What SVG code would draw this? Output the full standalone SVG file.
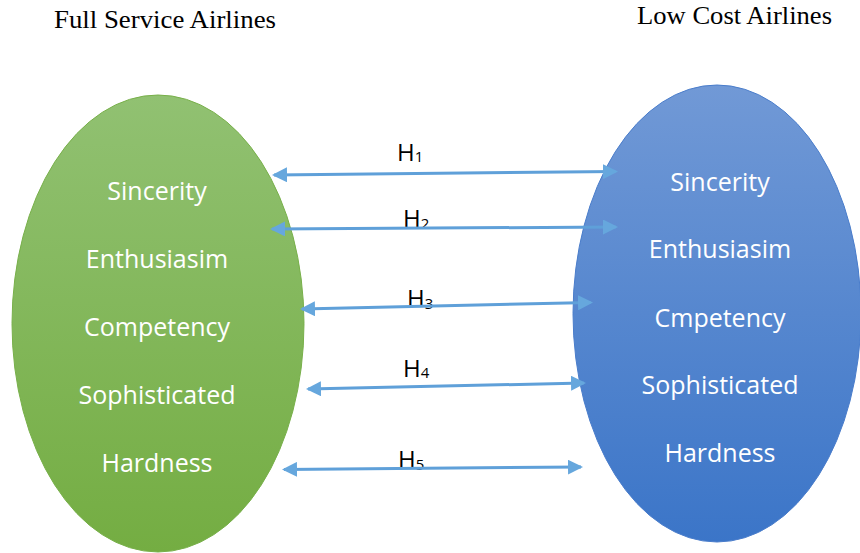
<svg xmlns="http://www.w3.org/2000/svg" width="860" height="553" viewBox="0 0 860 553">
  <style>
    .title { font-family: "Liberation Serif", "Times New Roman", serif; font-size: 26px; fill: #000; }
    .item { font-family: "Open Sans", "Liberation Sans", sans-serif; font-size: 25px; fill: #fff; text-anchor: middle; }
    .hlab { font-family: "Open Sans", "Liberation Sans", sans-serif; font-size: 24px; fill: #000; }
    .conn { stroke: #5FA0D9; stroke-width: 3; fill: none; marker-start: url(#head); marker-end: url(#head); }
  </style>
  <defs>
    <linearGradient id="gGreen" x1="0" y1="0" x2="0" y2="1">
      <stop offset="0" stop-color="#91C172"/>
      <stop offset="1" stop-color="#74AD42"/>
    </linearGradient>
    <linearGradient id="gBlue" x1="0" y1="0" x2="0" y2="1">
      <stop offset="0" stop-color="#7199D6"/>
      <stop offset="1" stop-color="#3B75C8"/>
    </linearGradient>
    <marker id="head" viewBox="0 0 15 15" markerWidth="15" markerHeight="15" refX="13" refY="7.5" orient="auto-start-reverse" markerUnits="userSpaceOnUse">
      <path d="M0,0 L15,7.5 L0,15 Z" fill="#66A7DD"/>
    </marker>
    <clipPath id="clipH2"><rect x="380" y="190" width="80" height="40"/></clipPath>
    <clipPath id="clipH3"><rect x="380" y="270" width="80" height="40"/></clipPath>
    <clipPath id="clipH5"><rect x="380" y="430" width="80" height="41"/></clipPath>
  </defs>

  <text id="title-fsa" class="title" x="54" y="28" textLength="222" lengthAdjust="spacingAndGlyphs">Full Service Airlines</text>
  <text id="title-lca" class="title" x="637" y="24" textLength="195" lengthAdjust="spacingAndGlyphs">Low Cost Airlines</text>

  <g id="node-fsa">
    <ellipse cx="158" cy="323.5" rx="146" ry="228.5" fill="url(#gGreen)" stroke="#78B04A" stroke-width="1"/>
    <text class="item" x="157" y="200">Sincerity</text>
    <text class="item" x="157" y="268">Enthusiasim</text>
    <text class="item" x="157" y="336">Competency</text>
    <text class="item" x="157" y="404">Sophisticated</text>
    <text class="item" x="157" y="472">Hardness</text>
  </g>

  <g id="node-lca">
    <ellipse cx="717" cy="313.5" rx="144" ry="228.5" fill="url(#gBlue)" stroke="#4A7DCB" stroke-width="1"/>
    <text class="item" x="720" y="191">Sincerity</text>
    <text class="item" x="720" y="258">Enthusiasim</text>
    <text class="item" x="720" y="327">Cmpetency</text>
    <text class="item" x="720" y="394">Sophisticated</text>
    <text class="item" x="720" y="462">Hardness</text>
  </g>

  <g id="labels">
    <text class="hlab" x="397" y="160.5">H<tspan font-size="15" dy="1.5">1</tspan></text>
    <g clip-path="url(#clipH2)"><text class="hlab" x="403" y="227">H<tspan font-size="15" dy="2">2</tspan></text></g>
    <g clip-path="url(#clipH3)"><text class="hlab" x="407" y="306.5">H<tspan font-size="15" dy="2">3</tspan></text></g>
    <text class="hlab" x="403" y="376.5">H<tspan font-size="15" dy="1.5">4</tspan></text>
    <g clip-path="url(#clipH5)"><text class="hlab" x="398" y="468">H<tspan font-size="15" dy="2">5</tspan></text></g>
  </g>

  <g id="connectors">
    <line class="conn" x1="274" y1="175" x2="616" y2="171.5"/>
    <line class="conn" x1="272" y1="229" x2="616" y2="227"/>
    <line class="conn" x1="302" y1="309" x2="591" y2="302.5"/>
    <line class="conn" x1="308" y1="389" x2="584" y2="383"/>
    <line class="conn" x1="284" y1="469.5" x2="581" y2="467"/>
  </g>
</svg>
